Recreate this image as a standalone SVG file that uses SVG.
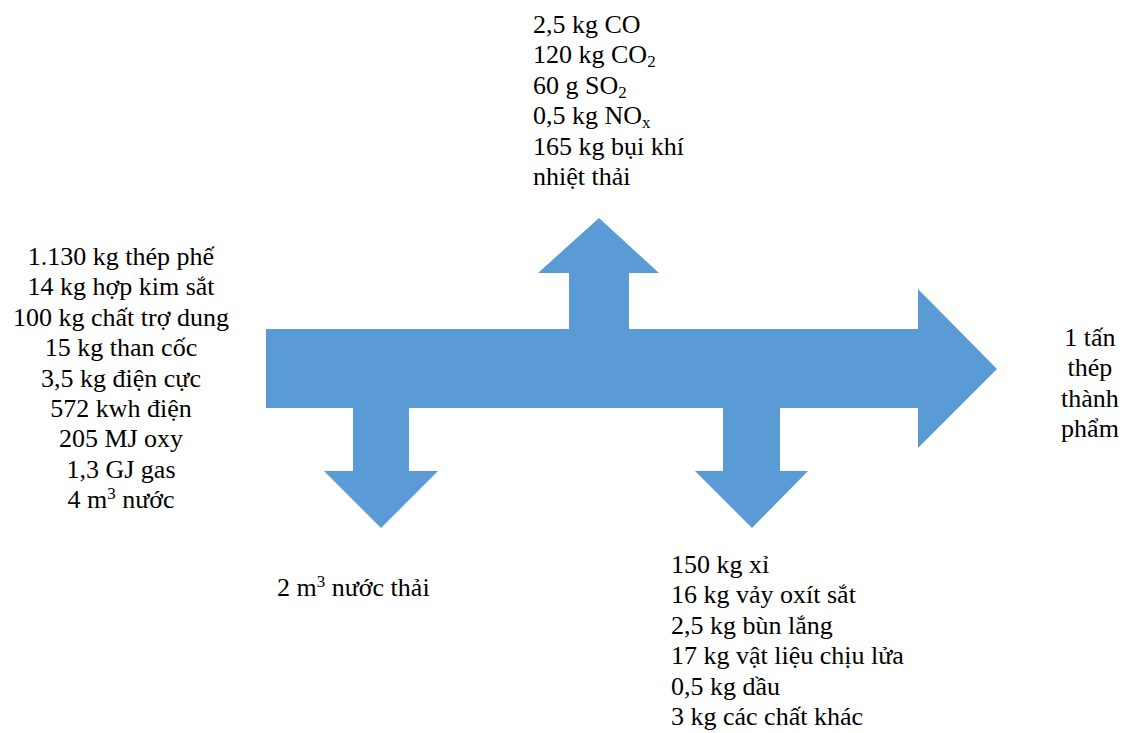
<svg xmlns="http://www.w3.org/2000/svg" width="1122" height="733" viewBox="0 0 1122 733">
  <style>
    .flow { fill: #5B9BD5; stroke: none; }
    .lbl { font-family: "Tinos", "Liberation Serif", "Noto Serif", "DejaVu Serif", "FreeSerif", serif; font-size: 26px; fill: #000; }
    .mid { text-anchor: middle; }
    .sub { font-size: 17px; }
  </style>

  <!-- Flow arrows: main stream with branch outlets -->
  <g id="connectors">
    <path id="main-flow" class="flow" d="M266,329 H569 V273 H538 L599,218 L659,273 H629 V329 H918 V289 L997,369 L918,448 V408 H780 V471 H808 L752,528 L695,471 H723 V408 H409 V471 H438 L381,528 L324,471 H353 V408 H266 Z"/>
  </g>

  <!-- Inputs -->
  <g id="inputs">
    <text class="lbl mid" x="121" y="265">1.130 kg thép phế</text>
    <text class="lbl mid" x="121" y="295.4">14 kg hợp kim sắt</text>
    <text class="lbl mid" x="121" y="325.8">100 kg chất trợ dung</text>
    <text class="lbl mid" x="121" y="356.2">15 kg than cốc</text>
    <text class="lbl mid" x="121" y="386.6">3,5 kg điện cực</text>
    <text class="lbl mid" x="121" y="417">572 kwh điện</text>
    <text class="lbl mid" x="121" y="447.4">205 MJ oxy</text>
    <text class="lbl mid" x="121" y="477.8">1,3 GJ gas</text>
    <text class="lbl mid" x="121" y="508.2">4 m<tspan class="sub" dy="-9">3</tspan><tspan dy="9"> nước</tspan></text>
  </g>

  <!-- Air emissions -->
  <g id="emissions">
    <text class="lbl" x="533" y="33">2,5 kg CO</text>
    <text class="lbl" x="533" y="63.4">120 kg CO<tspan class="sub" dy="4">2</tspan></text>
    <text class="lbl" x="533" y="93.8">60 g SO<tspan class="sub" dy="4">2</tspan></text>
    <text class="lbl" x="533" y="124.2">0,5 kg NO<tspan class="sub" dy="4">x</tspan></text>
    <text class="lbl" x="533" y="154.6">165 kg bụi khí</text>
    <text class="lbl" x="533" y="185">nhiệt thải</text>
  </g>

  <!-- Product -->
  <g id="product">
    <text class="lbl mid" x="1090" y="346">1 tấn</text>
    <text class="lbl mid" x="1090" y="376.4">thép</text>
    <text class="lbl mid" x="1090" y="406.8">thành</text>
    <text class="lbl mid" x="1090" y="437.2">phẩm</text>
  </g>

  <!-- Waste water -->
  <g id="wastewater">
    <text class="lbl" x="277" y="596">2 m<tspan class="sub" dy="-9">3</tspan><tspan dy="9"> nước thải</tspan></text>
  </g>

  <!-- Solid residues -->
  <g id="residues">
    <text class="lbl" x="671" y="573">150 kg xỉ</text>
    <text class="lbl" x="671" y="603.4">16 kg vảy oxít sắt</text>
    <text class="lbl" x="671" y="633.8">2,5 kg bùn lắng</text>
    <text class="lbl" x="671" y="664.2">17 kg vật liệu chịu lửa</text>
    <text class="lbl" x="671" y="694.6">0,5 kg dầu</text>
    <text class="lbl" x="671" y="725">3 kg các chất khác</text>
  </g>
</svg>
